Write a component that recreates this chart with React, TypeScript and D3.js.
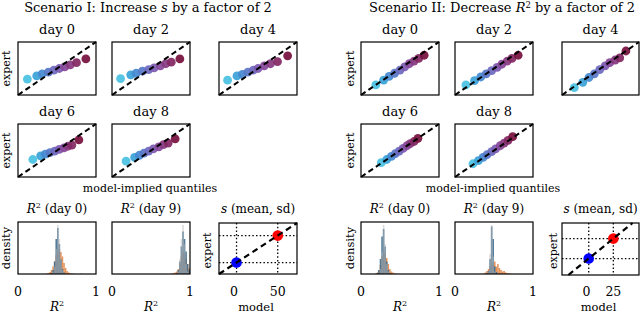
import React from 'react';
import * as d3 from 'd3';

const FONT = "'DejaVu Serif', serif";

const dayLabels = ['day 0', 'day 2', 'day 4', 'day 6', 'day 8'];

// Scenario I: model-implied quantiles (x) vs expert quantiles (y), per day
const s1ModelQ = [
  [1.2, 2.4, 3.1, 3.9, 4.6, 5.3, 6.0, 6.7, 7.5, 8.7],
  [1.1, 2.4, 3.1, 3.9, 4.7, 5.4, 6.2, 6.9, 7.6, 8.7],
  [1.1, 2.3, 3.0, 3.7, 4.4, 5.0, 5.8, 6.6, 7.5, 8.8],
  [1.9, 2.9, 3.5, 4.1, 4.7, 5.3, 5.9, 6.4, 6.9, 7.8],
  [1.8, 2.9, 3.5, 4.1, 4.7, 5.3, 6.0, 6.6, 7.2, 8.1],
];
const s1ExpertQ = [
  [3.0, 3.6, 4.0, 4.3, 4.7, 5.0, 5.3, 5.7, 6.1, 6.8],
  [3.1, 3.8, 4.1, 4.5, 4.8, 5.1, 5.5, 5.9, 6.2, 6.8],
  [2.8, 3.6, 3.9, 4.3, 4.7, 5.0, 5.5, 5.9, 6.3, 7.4],
  [3.3, 4.0, 4.3, 4.6, 4.9, 5.2, 5.5, 5.8, 6.0, 7.0],
  [3.0, 3.7, 4.1, 4.5, 4.9, 5.3, 5.7, 6.1, 6.4, 7.2],
];
// Scenario II
const s2ModelQ = [
  [1.9, 2.9, 3.6, 4.3, 5.0, 5.6, 6.2, 6.8, 7.4, 8.1],
  [1.4, 2.5, 3.3, 4.0, 4.7, 5.4, 6.0, 6.7, 7.3, 8.1],
  [1.6, 2.7, 3.5, 4.2, 4.9, 5.6, 6.2, 6.9, 7.5, 8.3],
  [2.6, 3.3, 3.9, 4.4, 4.9, 5.4, 5.9, 6.3, 6.8, 7.3],
  [2.3, 3.0, 3.6, 4.1, 4.7, 5.2, 5.8, 6.3, 6.8, 7.4],
];
const s2ExpertQ = [
  [1.9, 2.8, 3.5, 4.1, 4.7, 5.3, 5.9, 6.4, 6.9, 7.5],
  [1.9, 2.7, 3.4, 4.0, 4.6, 5.2, 5.8, 6.4, 6.9, 7.5],
  [1.4, 2.4, 3.3, 4.0, 4.8, 5.5, 6.1, 6.6, 7.0, 8.3],
  [2.7, 3.3, 3.9, 4.4, 4.9, 5.4, 5.9, 6.3, 6.7, 7.3],
  [2.5, 3.1, 3.7, 4.2, 4.8, 5.3, 5.9, 6.4, 6.9, 7.6],
];

const quantileColors = ['#48c1e2', '#3aa2d8', '#4489d0', '#5777c7', '#6c69bf', '#7c59b0', '#87479a', '#883880', '#822763', '#760f3e'];

// R^2 histograms (bin width 0.02): start of first bin + heights
const binWidth = 0.02;
const s1D0OrangeStart = 0.36;
const s1D0Orange = [1, 2, 4, 8, 15, 25, 38, 45, 50, 44, 35, 22, 12, 6, 3, 2, 1, 1, 0, 0, 0, 0, 1];
const s1D0BlueStart = 0.42;
const s1D0Blue = [2, 8, 25, 70, 92, 60, 30, 10, 3];
const s1D0GrayStart = 0.44;
const s1D0Gray = [4, 15, 50, 98, 70, 30, 8, 2];

const s1D9OrangeStart = 0.76;
const s1D9Orange = [1, 2, 3, 5, 10, 20, 35, 45, 40, 30, 20, 12];
const s1D9BlueStart = 0.82;
const s1D9Blue = [2, 8, 25, 55, 85, 70, 45, 20, 8];
const s1D9GrayStart = 0.84;
const s1D9Gray = [5, 30, 70, 98, 60, 20, 5];

const s2D0OrangeStart = 0.18;
const s2D0Orange = [1, 3, 8, 18, 35, 45, 40, 32, 20, 10, 5, 3, 1, 1];
const s2D0BlueStart = 0.2;
const s2D0Blue = [2, 8, 30, 75, 90, 55, 25, 8, 2];
const s2D0GrayStart = 0.24;
const s2D0Gray = [10, 45, 98, 60, 20, 5];

const s2D9OrangeStart = 0.36;
const s2D9Orange = [1, 3, 6, 10, 15, 22, 18, 25, 15, 20, 12, 8, 5, 6, 3, 2, 1, 1];
const s2D9BlueStart = 0.4;
const s2D9Blue = [2, 6, 30, 95, 70, 15, 4, 1];
const s2D9GrayStart = 0.42;
const s2D9Gray = [5, 40, 98, 35, 5];

// s (mean, sd): model vs expert
const s1Sd = [3, 3];
const s1Mean = [50, 50];
const s1Ticks = [0, 50];
const s1Domain = [-17, 72];
const s2Sd = [2, 2];
const s2Mean = [25, 25];
const s2Ticks = [0, 25];
const s2XDomain = [-23, 49];
const s2YDomain = [-17, 43];

function ScatterPanel({ x0, y0, w, h, xs, ys, title }: any) {
  const sx = d3.scaleLinear().domain([0, 10]).range([x0, x0 + w]);
  const sy = d3.scaleLinear().domain([0, 10]).range([y0 + h, y0]);
  return (
    <g>
      <text x={x0 + w / 2} y={y0 - 8.5} textAnchor="middle" fontSize={13} fontFamily={FONT}>{title}</text>
      {xs.map((v: number, i: number) => (
        <circle key={i} cx={sx(v)} cy={sy(ys[i])} r={4.4} fill={quantileColors[i]} fillOpacity={0.92} />
      ))}
      <line x1={sx(0)} y1={sy(0)} x2={sx(10)} y2={sy(10)} stroke="#000" strokeWidth={2} strokeDasharray="5.5,3.5" />
      <rect x={x0} y={y0} width={w} height={h} fill="none" stroke="#000" strokeWidth={1.2} />
    </g>
  );
}

function R2Title({ x, y, day }: any) {
  return (
    <text x={x} y={y} textAnchor="middle" fontSize={12} fontFamily={FONT}>
      <tspan fontStyle="italic">R</tspan>
      <tspan dy={-5} fontSize={8}>2</tspan>
      <tspan dy={5}>{` (day ${day})`}</tspan>
    </text>
  );
}

function HistPanel({ x0, y0, w, h, day, series }: any) {
  const sx = d3.scaleLinear().domain([0, 1]).range([x0, x0 + w]);
  const sy = d3.scaleLinear().domain([0, 104]).range([y0 + h, y0]);
  return (
    <g>
      <R2Title x={x0 + w / 2} y={y0 - 9} day={day} />
      {series.map((s: any, k: number) => (
        <g key={k}>
          {s.counts.map((c: number, i: number) => {
            const a = s.start + i * binWidth;
            return c > 0 ? (
              <rect key={i} x={sx(a)} width={sx(a + binWidth) - sx(a)} y={sy(c)} height={sy(0) - sy(c)}
                fill={s.color} fillOpacity={s.opacity} />
            ) : null;
          })}
        </g>
      ))}
      <rect x={x0} y={y0} width={w} height={h} fill="none" stroke="#000" strokeWidth={1.2} />
      {[0, 1].map((t) => (
        <text key={t} x={sx(t)} y={296} textAnchor="middle" fontSize={12.5} fontFamily={FONT}>{t}</text>
      ))}
      <text x={x0 + w / 2} y={311} textAnchor="middle" fontSize={12} fontFamily={FONT}>
        <tspan fontStyle="italic">R</tspan>
        <tspan dy={-5} fontSize={8}>2</tspan>
      </text>
    </g>
  );
}

function SPanel({ x0, y0, w, h, xDomain, yDomain, sd, mean, ticks, labelX }: any) {
  const sx = d3.scaleLinear().domain(xDomain).range([x0, x0 + w]);
  const sy = d3.scaleLinear().domain(yDomain).range([y0 + h, y0]);
  const lo = Math.max(xDomain[0], yDomain[0]);
  const hi = Math.min(xDomain[1], yDomain[1]);
  const pts = [
    { p: sd, c: '#0000ff' },
    { p: mean, c: '#ff0000' },
  ];
  return (
    <g>
      <text x={x0 + w / 2} y={y0 - 10} textAnchor="middle" fontSize={12} fontFamily={FONT}>
        <tspan fontStyle="italic">s</tspan>
        <tspan>{' (mean, sd)'}</tspan>
      </text>
      {pts.map((d, i) => (
        <g key={i}>
          <line x1={sx(d.p[0])} x2={sx(d.p[0])} y1={y0} y2={y0 + h} stroke="#000" strokeWidth={1.3} strokeDasharray="1.5,2.2" />
          <line x1={x0} x2={x0 + w} y1={sy(d.p[1])} y2={sy(d.p[1])} stroke="#000" strokeWidth={1.3} strokeDasharray="1.5,2.2" />
        </g>
      ))}
      {pts.map((d, i) => (
        <circle key={i} cx={sx(d.p[0])} cy={sy(d.p[1])} r={5.3} fill={d.c} />
      ))}
      <line x1={sx(lo)} y1={sy(lo)} x2={sx(hi)} y2={sy(hi)} stroke="#000" strokeWidth={2.2} strokeDasharray="6,4" />
      <rect x={x0} y={y0} width={w} height={h} fill="none" stroke="#000" strokeWidth={1.2} />
      {ticks.map((t: number) => (
        <text key={t} x={sx(t)} y={296} textAnchor="middle" fontSize={12.5} fontFamily={FONT}>{t}</text>
      ))}
      <text x={x0 + w / 2 - 2} y={311} textAnchor="middle" fontSize={11.5} fontFamily={FONT}>model</text>
      <text transform={`translate(${labelX},${y0 + h / 2 + 2}) rotate(-90)`} textAnchor="middle" fontSize={11} fontFamily={FONT}>expert</text>
    </g>
  );
}

function Scenario({ cols, title, modelQ, expertQ, hists, sPanel, labelX, quantCenter }: any) {
  const rows = [42, 124];
  const positions = [
    [cols[0], rows[0]], [cols[1], rows[0]], [cols[2], rows[0]],
    [cols[0], rows[1]], [cols[1], rows[1]],
  ];
  return (
    <g>
      {title}
      {positions.map((p, i) => (
        <ScatterPanel key={i} x0={p[0]} y0={p[1]} w={i === 2 ? cols[3] : 78} h={53} xs={modelQ[i]} ys={expertQ[i]} title={dayLabels[i]} />
      ))}
      {rows.map((r, i) => (
        <text key={i} transform={`translate(${labelX},${r + 26.5}) rotate(-90)`} textAnchor="middle" fontSize={11} fontFamily={FONT}>expert</text>
      ))}
      <text x={quantCenter} y={192} textAnchor="middle" fontSize={11} fontFamily={FONT}>model-implied quantiles</text>
      <text transform={`translate(${labelX},${248}) rotate(-90)`} textAnchor="middle" fontSize={11.5} fontFamily={FONT}>density</text>
      <HistPanel x0={cols[0]} y0={222} w={78} h={52} day={0} series={hists[0]} />
      <HistPanel x0={cols[1]} y0={222} w={78} h={52} day={9} series={hists[1]} />
      {sPanel}
    </g>
  );
}

const ORANGE = '#e0803f';
const BLUE = '#3f6e8e';
const GRAY = '#b8b8b8';

function mk(oStart: number, o: number[], bStart: number, b: number[], gStart: number, g: number[]) {
  return [
    { start: oStart, counts: o, color: ORANGE, opacity: 0.85 },
    { start: bStart, counts: b, color: BLUE, opacity: 0.9 },
    { start: gStart, counts: g, color: GRAY, opacity: 0.5 },
  ];
}

export default function App() {
  const leftCols = [18, 112, 219, 78];
  const rightCols = [361, 455, 562, 77];
  return (
    <svg width={640} height={313} style={{ position: 'absolute', left: 0, top: 0, background: '#fff' }}>
      <Scenario
        cols={leftCols}
        labelX={10}
        quantCenter={150}
        title={
          <text x={148} y={12} textAnchor="middle" fontSize={13} fontFamily={FONT}>
            <tspan>{'Scenario I: Increase '}</tspan>
            <tspan fontStyle="italic">s</tspan>
            <tspan>{' by a factor of 2'}</tspan>
          </text>
        }
        modelQ={s1ModelQ}
        expertQ={s1ExpertQ}
        hists={[
          mk(s1D0OrangeStart, s1D0Orange, s1D0BlueStart, s1D0Blue, s1D0GrayStart, s1D0Gray),
          mk(s1D9OrangeStart, s1D9Orange, s1D9BlueStart, s1D9Blue, s1D9GrayStart, s1D9Gray),
        ]}
        sPanel={<SPanel x0={219} y0={223} w={78} h={51} xDomain={s1Domain} yDomain={s1Domain} sd={s1Sd} mean={s1Mean} ticks={s1Ticks} labelX={211} />}
      />
      <Scenario
        cols={rightCols}
        labelX={354}
        quantCenter={493}
        title={
          <text x={502} y={12} textAnchor="middle" fontSize={13} fontFamily={FONT}>
            <tspan>{'Scenario II: Decrease '}</tspan>
            <tspan fontStyle="italic">R</tspan>
            <tspan dy={-4.5} fontSize={8.5}>2</tspan>
            <tspan dy={4.5}>{' by a factor of 2'}</tspan>
          </text>
        }
        modelQ={s2ModelQ}
        expertQ={s2ExpertQ}
        hists={[
          mk(s2D0OrangeStart, s2D0Orange, s2D0BlueStart, s2D0Blue, s2D0GrayStart, s2D0Gray),
          mk(s2D9OrangeStart, s2D9Orange, s2D9BlueStart, s2D9Blue, s2D9GrayStart, s2D9Gray),
        ]}
        sPanel={<SPanel x0={562} y0={223} w={77} h={52} xDomain={s2XDomain} yDomain={s2YDomain} sd={s2Sd} mean={s2Mean} ticks={s2Ticks} labelX={557} />}
      />
    </svg>
  );
}
